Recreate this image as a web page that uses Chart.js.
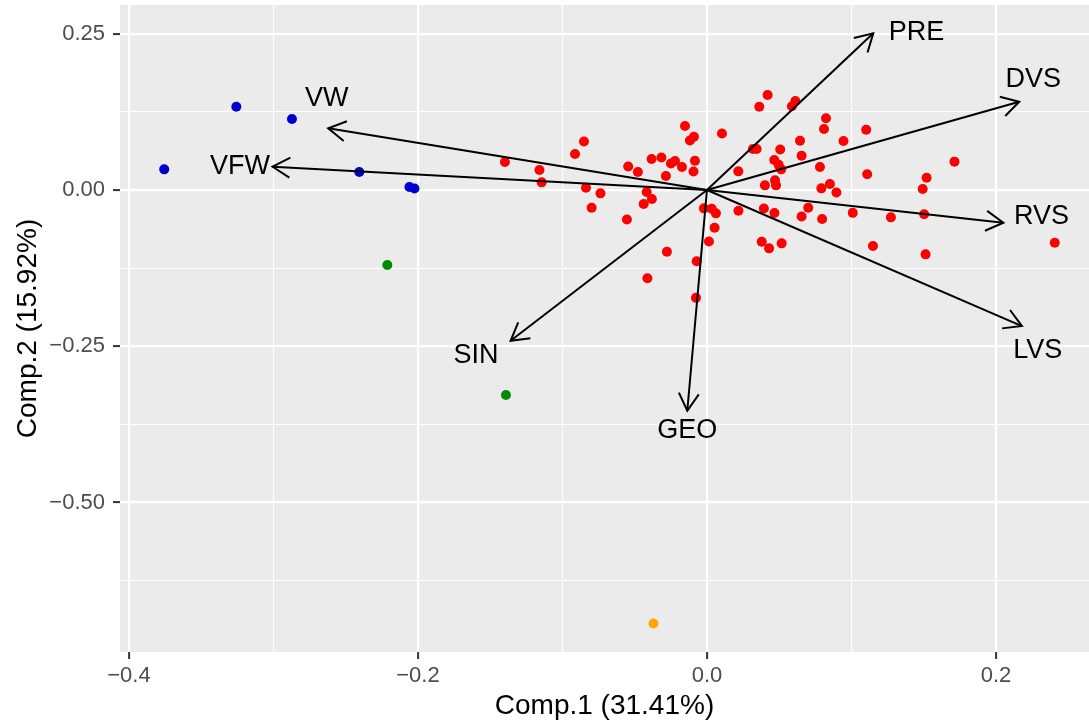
<!DOCTYPE html>
<html>
<head>
<meta charset="utf-8">
<title>PCA biplot</title>
<script src="https://cdn.jsdelivr.net/npm/chart.js@4.4.1/dist/chart.umd.min.js"></script>
<style>
  html, body { margin: 0; padding: 0; background: #ffffff; }
  #wrap { width: 1089px; height: 723px; }
</style>
</head>
<body>
<div id="wrap"><canvas id="biplot" width="1089" height="723"></canvas></div>
<script>
// --- scores, one pair of arrays per group ---
const redX = [-0.0152, 0.0104, -0.0090, -0.0118, -0.0851, -0.0913, -0.1398, -0.1159, -0.1144, -0.0545,
  -0.0478, -0.0383, -0.0315, -0.0249, -0.0221, -0.0173, -0.0083, -0.0093, -0.0284, 0.0217,
  -0.0837, -0.0737, -0.0417, -0.0381, -0.0438, -0.0798, -0.0554, -0.0021, 0.0033, 0.0062,
  0.0218, 0.0053, 0.0014, -0.0277, -0.0071, -0.0412, -0.0076, 0.0420, 0.0362, 0.0612,
  0.0588, 0.0824, 0.0810, 0.1102, 0.0945, 0.0644, 0.0318, 0.0344, 0.0507, 0.0655,
  0.0466, 0.0496, 0.0514, 0.0782, 0.1713, 0.1109, 0.1520, 0.1493, 0.0401, 0.0471,
  0.0478, 0.0792, 0.0851, 0.0896, 0.0394, 0.0467, 0.0701, 0.0655, 0.0797, 0.1009,
  0.1273, 0.1503, 0.0379, 0.0430, 0.0517, 0.1149, 0.1513, 0.2407];
const redY = [0.1024, 0.0904, 0.0853, 0.0792, 0.0776, 0.0576, 0.0448, 0.0320, 0.0123, 0.0376,
  0.0288, 0.0496, 0.0520, 0.0424, 0.0464, 0.0368, 0.0469, 0.0296, 0.0224, 0.0299,
  0.0037, -0.0053, -0.0032, -0.0144, -0.0224, -0.0283, -0.0472, -0.0293, -0.0299, -0.0373,
  -0.0331, -0.0603, -0.0824, -0.0987, -0.1139, -0.1411, -0.1725, 0.1520, 0.1333, 0.1424,
  0.1339, 0.1147, 0.0976, 0.0965, 0.0784, 0.0789, 0.0656, 0.0656, 0.0648, 0.0549,
  0.0480, 0.0403, 0.0331, 0.0368, 0.0454, 0.0253, 0.0197, 0.0016, 0.0075, 0.0155,
  0.0075, 0.0027, 0.0096, -0.0040, -0.0296, -0.0368, -0.0283, -0.0424, -0.0464, -0.0365,
  -0.0437, -0.0387, -0.0827, -0.0933, -0.0853, -0.0896, -0.1029, -0.0843];
const blueX = [-0.3756, -0.3257, -0.2872, -0.2406, -0.2059, -0.2024];
const blueY = [0.0331, 0.1333, 0.1136, 0.0288, 0.0048, 0.0024];
const greenX = [-0.2212, -0.1391];
const greenY = [-0.1200, -0.3280];
const orangeX = [-0.0370];
const orangeY = [-0.6933];

// --- loadings (arrow tips) and where their names sit ---
const varNames = ['PRE', 'DVS', 'RVS', 'LVS', 'GEO', 'SIN', 'VW', 'VFW'];
const loadX = [0.1151, 0.2161, 0.2051, 0.2180, -0.0136, -0.1359, -0.2621, -0.3006];
const loadY = [0.2507, 0.1413, -0.0523, -0.2176, -0.3531, -0.2411, 0.0987, 0.0373];
const labelX = [0.1451, 0.2258, 0.2316, 0.2290, -0.0136, -0.1599, -0.2632, -0.3232];
const labelY = [0.2523, 0.1760, -0.0427, -0.2560, -0.3850, -0.2640, 0.1467, 0.0373];

// --- ticks / grid ---
const xGrid = [-0.4, -0.3, -0.2, -0.1, 0, 0.1, 0.2];
const xMajor = [-0.4, -0.2, 0, 0.2];
const xTickLabels = ['\u22120.4', '\u22120.2', '0.0', '0.2'];
const yGrid = [-0.625, -0.5, -0.375, -0.25, -0.125, 0, 0.125, 0.25];
const yMajor = [-0.5, -0.25, 0, 0.25];
const yTickLabels = ['\u22120.50', '\u22120.25', '0.00', '0.25'];

const FONT = '"Liberation Sans", Arial, sans-serif';
const HEAD = 20;              // arrow head arm length, px
const SPREAD = Math.PI / 6;   // 30 degrees

function majorIndex(list, v) {
    return list.findIndex(m => Math.abs(m - v) < 1e-9);
}

function pairs(xs, ys) {
    return xs.map((x, i) => ({ x: x, y: ys[i] }));
}

// grey panel behind the grid
const panelBg = {
    id: 'panelBg',
    beforeDraw(chart) {
        const { ctx, chartArea: a } = chart;
        ctx.save();
        ctx.fillStyle = '#EBEBEB';
        ctx.fillRect(a.left, a.top, a.right - a.left, a.bottom - a.top);
        ctx.restore();
    }
};

// open arrow heads and variable names
const arrowHeads = {
    id: 'arrowHeads',
    afterDatasetsDraw(chart) {
        const { ctx } = chart;
        const xs = chart.scales.x, ys = chart.scales.y;
        const x0 = xs.getPixelForValue(0), y0 = ys.getPixelForValue(0);
        ctx.save();
        ctx.strokeStyle = '#000000';
        ctx.lineWidth = 2;
        ctx.lineCap = 'butt';
        ctx.lineJoin = 'miter';
        varNames.forEach((name, i) => {
            const tx = xs.getPixelForValue(loadX[i]);
            const ty = ys.getPixelForValue(loadY[i]);
            const ang = Math.atan2(ty - y0, tx - x0);
            ctx.beginPath();
            ctx.moveTo(tx - HEAD * Math.cos(ang - SPREAD), ty - HEAD * Math.sin(ang - SPREAD));
            ctx.lineTo(tx, ty);
            ctx.lineTo(tx - HEAD * Math.cos(ang + SPREAD), ty - HEAD * Math.sin(ang + SPREAD));
            ctx.stroke();
        });
        ctx.fillStyle = '#000000';
        ctx.font = '27px ' + FONT;
        ctx.textAlign = 'center';
        ctx.textBaseline = 'middle';
        varNames.forEach((name, i) => {
            ctx.fillText(name, xs.getPixelForValue(labelX[i]), ys.getPixelForValue(labelY[i]));
        });
        ctx.restore();
    }
};

const pointStyle = (color) => ({
    pointRadius: 5,
    pointBackgroundColor: color,
    pointBorderWidth: 0,
    pointBorderColor: color,
    showLine: false,
    order: 2
});

const arrowSets = varNames.map((name, i) => ({
    label: name,
    data: [{ x: 0, y: 0 }, { x: loadX[i], y: loadY[i] }],
    showLine: true,
    borderColor: '#000000',
    borderWidth: 2,
    pointRadius: 0,
    fill: false,
    tension: 0,
    order: 1
}));

const config = {
    type: 'scatter',
    data: {
        datasets: [
            Object.assign({ label: 'red', data: pairs(redX, redY) }, pointStyle('#FF0000')),
            Object.assign({ label: 'blue', data: pairs(blueX, blueY) }, pointStyle('#0000CD')),
            Object.assign({ label: 'green', data: pairs(greenX, greenY) }, pointStyle('#008B00')),
            Object.assign({ label: 'orange', data: pairs(orangeX, orangeY) }, pointStyle('#FFA500'))
        ].concat(arrowSets)
    },
    options: {
        responsive: false,
        animation: false,
        events: [],
        layout: { autoPadding: false, padding: { top: 5, left: 0, right: 0, bottom: 0 } },
        plugins: {
            legend: { display: false },
            tooltip: { enabled: false }
        },
        scales: {
            x: {
                type: 'linear',
                position: 'bottom',
                min: -0.4062,
                max: 0.2644,
                afterBuildTicks: axis => { axis.ticks = xGrid.map(v => ({ value: v })); },
                afterFit: axis => {
                    axis.height = 71;
                    axis.paddingLeft = 0;
                    axis.paddingRight = 0;
                },
                border: { display: false },
                grid: {
                    color: '#FFFFFF',
                    lineWidth: c => majorIndex(xMajor, c.tick.value) >= 0 ? 2.2 : 1.1,
                    drawTicks: true,
                    tickLength: 7,
                    tickWidth: 2,
                    tickColor: c => majorIndex(xMajor, c.tick.value) >= 0 ? '#333333' : 'rgba(0,0,0,0)'
                },
                ticks: {
                    autoSkip: false,
                    maxRotation: 0,
                    padding: 4,
                    color: '#4D4D4D',
                    font: { family: FONT, size: 22 },
                    callback: v => {
                        const i = majorIndex(xMajor, v);
                        return i < 0 ? '' : xTickLabels[i];
                    }
                },
                title: {
                    display: true,
                    text: 'Comp.1 (31.41%)',
                    color: '#000000',
                    font: { family: FONT, size: 28, lineHeight: 1.2 },
                    padding: { top: 0, bottom: 0 }
                }
            },
            y: {
                type: 'linear',
                position: 'left',
                min: -0.739,
                max: 0.296,
                afterBuildTicks: axis => { axis.ticks = yGrid.map(v => ({ value: v })); },
                afterFit: axis => {
                    axis.width = 120;
                    axis.paddingTop = 0;
                    axis.paddingBottom = 0;
                },
                border: { display: false },
                grid: {
                    color: '#FFFFFF',
                    lineWidth: c => majorIndex(yMajor, c.tick.value) >= 0 ? 2.2 : 1.1,
                    drawTicks: true,
                    tickLength: 7,
                    tickWidth: 2,
                    tickColor: c => majorIndex(yMajor, c.tick.value) >= 0 ? '#333333' : 'rgba(0,0,0,0)'
                },
                ticks: {
                    autoSkip: false,
                    padding: 8,
                    color: '#4D4D4D',
                    font: { family: FONT, size: 22 },
                    callback: v => {
                        const i = majorIndex(yMajor, v);
                        return i < 0 ? '' : yTickLabels[i];
                    }
                },
                title: {
                    display: true,
                    text: 'Comp.2 (15.92%)',
                    color: '#000000',
                    font: { family: FONT, size: 28, lineHeight: 1.2 },
                    padding: { top: 11, bottom: 0 }
                }
            }
        }
    },
    plugins: [panelBg, arrowHeads]
};

document.addEventListener('DOMContentLoaded', () => {
    window.biplot = new Chart(document.getElementById('biplot'), config);
});
</script>
</body>
</html>
